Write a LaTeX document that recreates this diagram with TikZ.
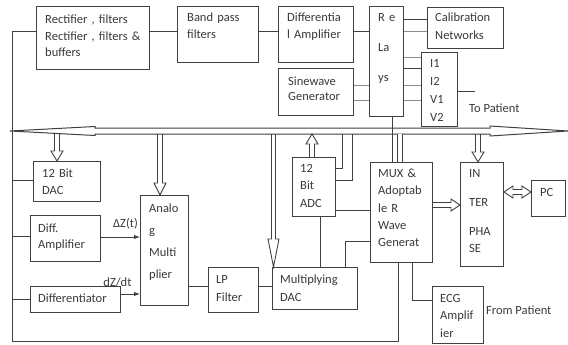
\documentclass[tikz,border=0pt]{standalone}
\usepackage{fontspec}
\setmainfont{Carlito}
\usetikzlibrary{calc,arrows.meta}
\definecolor{ln}{HTML}{404040}
\definecolor{lg}{HTML}{8C8C8C}
\definecolor{tx}{HTML}{3A3A3A}
\tikzset{
  box/.style={draw=ln, line width=1pt, anchor=north west, inner sep=0pt, fill=white},
  txt/.style={font=\fontsize{12.5}{#1}\selectfont, text=tx, inner sep=0pt, anchor=base west, align=left},
  lbl/.style={font=\fontsize{12.5}{15}\selectfont, text=tx, inner sep=0pt},
  wire/.style={draw=ln, line width=1pt},
  gwire/.style={draw=lg, line width=1pt},
  sigarrow/.style={draw=ln, line width=1pt, -{Latex[length=6pt,width=4.5pt]}},
  blk/.style args={#1/#2/#3}{draw=ln, line width=0.9pt, to path={let \p1=(\tikztostart), \p2=(\tikztotarget),
      \n1={veclen(\x2-\x1,\y2-\y1)}, \n2={(\x2-\x1)/\n1}, \n3={(\y2-\y1)/\n1} in
      ({\x1-#1*\n3},{\y1+#1*\n2}) -- ({\x2-#3*\n2-#1*\n3},{\y2-#3*\n3+#1*\n2})
      -- ({\x2-#3*\n2-#2*\n3},{\y2-#3*\n3+#2*\n2}) -- (\x2,\y2)
      -- ({\x2-#3*\n2+#2*\n3},{\y2-#3*\n3-#2*\n2}) -- ({\x2-#3*\n2+#1*\n3},{\y2-#3*\n3-#1*\n2})
      -- ({\x1+#1*\n3},{\y1-#1*\n2})}},
  dblk/.style args={#1/#2/#3}{draw=ln, line width=0.9pt, to path={let \p1=(\tikztostart), \p2=(\tikztotarget),
      \n1={veclen(\x2-\x1,\y2-\y1)}, \n2={(\x2-\x1)/\n1}, \n3={(\y2-\y1)/\n1} in
      (\x1,\y1) -- ({\x1+#3*\n2-#2*\n3},{\y1+#3*\n3+#2*\n2}) -- ({\x1+#3*\n2-#1*\n3},{\y1+#3*\n3+#1*\n2})
      -- ({\x2-#3*\n2-#1*\n3},{\y2-#3*\n3+#1*\n2}) -- ({\x2-#3*\n2-#2*\n3},{\y2-#3*\n3+#2*\n2})
      -- (\x2,\y2) -- ({\x2-#3*\n2+#2*\n3},{\y2-#3*\n3-#2*\n2}) -- ({\x2-#3*\n2+#1*\n3},{\y2-#3*\n3-#1*\n2})
      -- ({\x1+#3*\n2+#1*\n3},{\y1+#3*\n3-#1*\n2}) -- ({\x1+#3*\n2+#2*\n3},{\y1+#3*\n3-#2*\n2}) -- cycle}}
}
\begin{document}
\begin{tikzpicture}[x=1pt,y=-1pt]
\useasboundingbox (0,0) rectangle (568,345);

% ---------- boxes ----------
\node[box, minimum width=113pt, minimum height=63pt] (rect) at (36,6) {};
\node[box, minimum width=81pt, minimum height=56pt] (band) at (177,6) {};
\node[box, minimum width=75pt, minimum height=56pt] (diff) at (278,6) {};
\node[box, minimum width=34pt, minimum height=110pt] (relay) at (369,6) {};
\node[box, minimum width=76pt, minimum height=41pt] (calib) at (427,7) {};
\node[box, minimum width=75pt, minimum height=47pt] (sine) at (278,68) {};
\node[box, minimum width=36pt, minimum height=74pt] (ibox) at (421,52) {};
\node[box, minimum width=67pt, minimum height=40pt] (dac) at (33,161) {};
\node[box, minimum width=43pt, minimum height=59pt] (adc) at (292,157) {};
\node[box, minimum width=62pt, minimum height=100pt] (mux) at (370,162) {};
\node[box, minimum width=43pt, minimum height=104pt] (inter) at (460,162) {};
\node[box, minimum width=34pt, minimum height=36pt] (pc) at (531,180) {};
\node[box, minimum width=48pt, minimum height=110pt] (analog) at (140,195) {};
\node[box, minimum width=70pt, minimum height=46pt] (diffamp) at (30,215) {};
\node[box, minimum width=90pt, minimum height=26pt] (differ) at (30,286) {};
\node[box, minimum width=50pt, minimum height=45pt] (lp) at (208,267) {};
\node[box, minimum width=85pt, minimum height=42pt] (mdac) at (272,267) {};
\node[box, minimum width=51pt, minimum height=57pt] (ecg) at (432,286) {};

% ---------- texts ----------
\node[txt=16.5, text width=100pt] (rect-t) at (45,24) {Rectifier , filters\\Rectifier , filters \&\\buffers};
\node[txt=17, text width=70pt] (band-t) at (187,22) {Band pass\\filters};
\node[txt=17, text width=64pt] (diff-t) at (287,22) {Differentia\\l Amplifier};
\node[txt=30, text width=24pt] (relay-t) at (378,22) {R e\\La\\ys};
\node[txt=18, text width=66pt] (calib-t) at (435,22) {Calibration\\Networks};
\node[txt=16, text width=62pt] (sine-t) at (288,85) {Sinewave\\Generator};
\node[txt=17.7, text width=25pt] (ibox-t) at (430,68) {I1\\I2\\V1\\V2};
\node[txt=15] (topat) at (469,112) {To Patient};
\node[txt=17, text width=55pt] (dac-t) at (42,177) {12 Bit\\DAC};
\node[txt=17.5, text width=33pt] (adc-t) at (300,172) {12\\Bit\\ADC};
\node[txt=17.5, text width=52pt] (mux-t) at (378,177) {MUX \&\\Adoptab\\le R\\Wave\\Generat};
\node[txt=17, text width=33pt] (inter-t) at (469,177) {IN\\[12pt]TER\\[12pt]PHA\\SE};
\node[txt=15] (pc-t) at (540,196) {PC};
\node[txt=22, text width=40pt] (analog-t) at (149,212) {Analo\\g\\Multi\\plier};
\node[txt=16, text width=60pt] (diffamp-t) at (38,232) {Diff.\\Amplifier};
\node[txt=15] (differ-t) at (38,302) {Differentiator};
\node[txt=18, text width=42pt] (lp-t) at (216,283) {LP\\Filter};
\node[txt=18, text width=75pt] (mdac-t) at (280,283) {Multiplying\\DAC};
\node[txt=17.5, text width=42pt] (ecg-t) at (440,302) {ECG\\Amplif\\ier};
\node[txt=15] (frompat) at (486,314) {From Patient};
\node[lbl] (dz) at (125.5,224) {ΔZ(t)};
\node[lbl] (dzdt) at (117.5,282) {dZ/dt};

% ---------- bus ----------
\draw[draw=ln, line width=1pt, fill=white] (10,131) -- (95,126.5) -- (95,128) -- (490,128) -- (490,126)
  -- (568,131) -- (490,136) -- (490,134) -- (95,134) -- (95,135.5) -- cycle;

% ---------- helper coordinates ----------
\coordinate (tl) at (12,32);
\coordinate (bl) at (12,341);
\coordinate (mb) at (398,341);
\coordinate (y20) at (0,20);
\coordinate (y58) at (0,58);
\coordinate (y69) at (0,69);
\coordinate (y86) at (0,86);
\coordinate (y101) at (0,101);
\coordinate (tp) at (475,92);
\coordinate (l180) at (12,180);
\coordinate (l236) at (12,236);
\coordinate (l299) at (12,299);
\coordinate (y237) at (0,237);
\coordinate (y294) at (0,294);
\coordinate (y286) at (0,286);
\coordinate (b1) at (57,134);
\coordinate (b2) at (160,134);
\coordinate (b3) at (273.5,134);
\coordinate (b4) at (312,134);
\coordinate (b5) at (342,134);
\coordinate (b6) at (352,134);
\coordinate (b7) at (400,134);
\coordinate (b8) at (478,134);
\coordinate (rv) at (392,0);
\coordinate (y168) at (0,168);
\coordinate (y180) at (0,180);
\coordinate (y210) at (0,210);
\coordinate (ab) at (320,0);
\coordinate (mt) at (345,241);
\coordinate (y205) at (0,205);
\coordinate (y192) at (0,192);
\coordinate (me) at (412,300);

% ---------- top chain ----------
\draw[wire] (tl -| rect.west) -- (tl) -- (bl) -- (mb) -- (mb |- mux.south);
\draw[wire] (tl -| rect.east) -- (tl -| band.west);
\draw[wire] (tl -| band.east) -- (tl -| diff.west);
\draw[wire] (tl -| diff.east) -- (tl -| relay.west);
\draw[wire] (relay.east |- y20) -- (calib.west |- y20);
\draw[gwire] (relay.east |- tl) -- (calib.west |- tl);
\draw[gwire] (relay.east |- y58) -- (ibox.west |- y58);
\draw[wire] (relay.east |- y69) -- (ibox.west |- y69);
\draw[gwire] (relay.east |- y86) -- (ibox.west |- y86);
\draw[gwire] (relay.east |- y101) -- (ibox.west |- y101);
\draw[gwire] (sine.east |- y86) -- (relay.west |- y86);
\draw[gwire] (sine.east |- y101) -- (relay.west |- y101);
\draw[wire] (ibox.east |- tp) -- (tp);
\draw[wire] (rv |- relay.south) -- (rv |- mux.north);

% ---------- bus connections ----------
\draw[blk=2.5/6/10] (b1) to (b1 |- dac.north);
\draw[blk=2.5/6/12] (b2) to (b2 |- analog.north);
\draw[blk=2/5.5/28] (b3) to (b3 |- mdac.north);
\draw[blk=2.5/6/10] (b4 |- adc.north) to (b4);
\draw[blk=2.5/6/10] (b8) to (b8 |- inter.north);
\draw[draw=ln, line width=0.9pt, double=white, double distance=4.5pt] (b7) -- (b7 |- mux.north);
\draw[wire] (b5) -- (b5 |- y168) -- (adc.east |- y168);
\draw[wire] (b6) -- (b6 |- y180) -- (adc.east |- y180);

% ---------- lower connections ----------
\draw[wire] (adc.east |- y210) -- (mux.west |- y210);
\draw[wire] (ab |- adc.south) -- (ab |- mdac.north);
\draw[wire] (mt |- mdac.north) -- (mt) -- (mt -| mux.west);
\draw[blk=2.5/6/9] (mux.east |- y205) to (inter.west |- y205);
\draw[dblk=2.5/6/9] (inter.east |- y192) to (pc.west |- y192);
\draw[wire] (me |- mux.south) -- (me) -- (me -| ecg.west);
\draw[wire] (l180) -- (l180 -| dac.west);
\draw[wire] (l236) -- (l236 -| diffamp.west);
\draw[wire] (l299) -- (l299 -| differ.west);
\draw[sigarrow] (diffamp.east |- y237) -- (analog.west |- y237);
\draw[sigarrow] (differ.east |- y294) -- (analog.west |- y294);
\draw[wire] (analog.east |- y286) -- (lp.west |- y286);
\draw[wire] (lp.east |- y286) -- (mdac.west |- y286);
\end{tikzpicture}
\end{document}
